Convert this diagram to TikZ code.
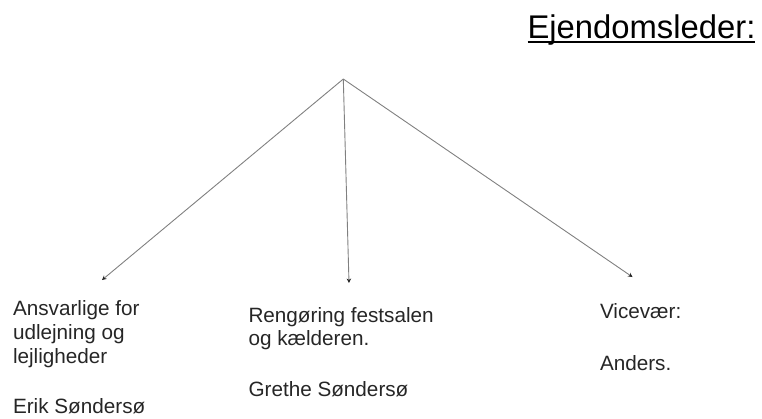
\documentclass[tikz,border=0pt]{standalone}
\usepackage{fontspec}
\setmainfont{Liberation Sans}
\usetikzlibrary{arrows.meta}
\tikzset{
  lbl/.style={anchor=base west, inner sep=0pt, outer sep=0pt, text=black!85, font=\fontsize{20.7}{24}\selectfont},
  ttl/.style={anchor=base west, inner sep=0pt, outer sep=0pt, text=black, font=\fontsize{32.8}{38}\selectfont},
  conn/.style={draw=black!50, line width=0.9pt, -{Stealth[length=4.5pt,width=4.5pt,color=black!85]}},
}
\begin{document}
\begin{tikzpicture}[x=1pt,y=-1pt]
\useasboundingbox (0,0) rectangle (762,418);
% title
\node[ttl] (title) at (527.5,38.5) {Ejendomsleder:};
\draw[line width=1.4pt] ([yshift=-3.5pt]title.base west) -- ([yshift=-3.5pt]title.base east);
% connectors
\coordinate (apex) at (343.3,79);
\coordinate (tl) at (102,280);
\coordinate (tm) at (349,283);
\coordinate (tr) at (632.5,277);
\draw[conn] (apex) -- (tl);
\draw[conn] (apex) -- (tm);
\draw[conn] (apex) -- (tr);
% left column
\node[lbl] (l1) at (13,315) {Ansvarlige for};
\node[lbl] (l2) at (13,339) {udlejning og};
\node[lbl] (l3) at (13,363) {lejligheder};
\node[lbl] (l4) at (13,413) {Erik Søndersø};
% middle column
\node[lbl] (m1) at (248.5,322) {Rengøring festsalen};
\node[lbl] (m2) at (248.5,345) {og kælderen.};
\node[lbl] (m3) at (248.5,396) {Grethe Søndersø};
% right column
\node[lbl] (r1) at (600,318) {Vicevær:};
\node[lbl] (r2) at (600,370) {Anders.};
\end{tikzpicture}
\end{document}
